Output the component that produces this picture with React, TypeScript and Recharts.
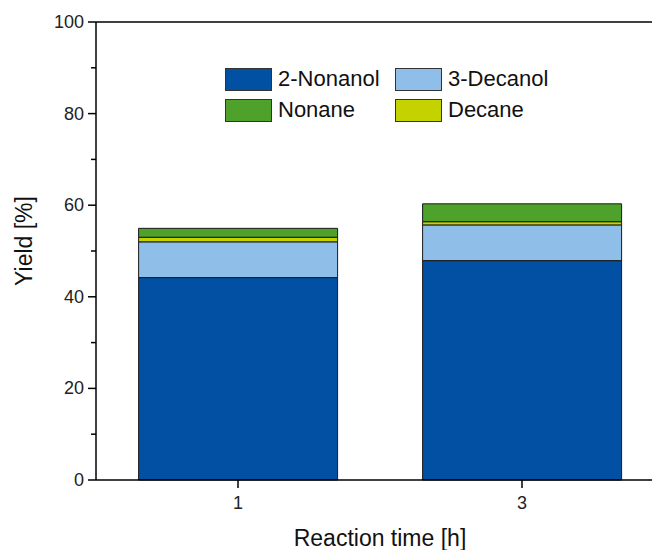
import React from 'react';
import { BarChart, Bar, XAxis, YAxis, ReferenceLine } from 'recharts';

const times = ['1', '3'];
const nonanol2 = [44.2, 47.9];
const decanol3 = [7.8, 7.8];
const decane = [1.0, 0.7];
const nonane = [1.95, 3.9];
const yTicks = [0, 10, 20, 30, 40, 50, 60, 70, 80, 90, 100];

const series = [
  { key: 'nonanol2', name: '2-Nonanol', color: '#0150a4' },
  { key: 'decanol3', name: '3-Decanol', color: '#8fbfe9' },
  { key: 'nonane', name: 'Nonane', color: '#4ea12b' },
  { key: 'decane', name: 'Decane', color: '#c4d300' },
];
const stackOrder = ['nonanol2', 'decanol3', 'decane', 'nonane'];

const data = times.map((t, i) => ({
  time: t,
  nonanol2: nonanol2[i],
  decanol3: decanol3[i],
  decane: decane[i],
  nonane: nonane[i],
}));

const font = 'Arial, "Liberation Sans", sans-serif';

const YTick = ({ x, y, payload }: any) => {
  const major = payload.value % 20 === 0;
  return (
    <g>
      <line x1={major ? x + 4 : x + 7} x2={x + 12} y1={y} y2={y} stroke="#000" strokeWidth={1.5} />
      {major && (
        <text x={x} y={y} dy={6} textAnchor="end" fontSize={18} fill="#222" fontFamily={font}>
          {payload.value}
        </text>
      )}
    </g>
  );
};

const YTitle = ({ viewBox }: any) => {
  const cx = 24;
  const cy = viewBox.y + viewBox.height / 2 - 10;
  return (
    <text
      x={cx}
      y={cy}
      transform={`rotate(-90, ${cx}, ${cy})`}
      textAnchor="middle"
      dominantBaseline="central"
      fontSize={23}
      fill="#111"
      fontFamily={font}
    >
      Yield [%]
    </text>
  );
};

const ChartLegend = () => (
  <div
    style={{
      position: 'absolute',
      left: 225,
      top: 67,
      display: 'grid',
      gridTemplateColumns: '170px 160px',
      rowGap: 7,
      fontFamily: font,
      fontSize: 22,
      color: '#111',
    }}
  >
    {series.map((s) => (
      <div key={s.key} style={{ display: 'flex', alignItems: 'center', height: 24 }}>
        <span
          style={{
            width: 47,
            height: 23,
            background: s.color,
            border: '1px solid #333',
            marginRight: 6,
            boxSizing: 'border-box',
          }}
        />
        <span>{s.name}</span>
      </div>
    ))}
  </div>
);

export default function App() {
  return (
    <div style={{ position: 'absolute', left: 0, top: 0, width: 652, height: 550, overflow: 'hidden', background: '#fff' }}>
      <BarChart
        width={680}
        height={550}
        data={data}
        margin={{ top: 22, right: 16, bottom: 0, left: 0 }}
        barCategoryGap="15%"
      >
        <XAxis
          dataKey="time"
          height={70}
          axisLine={{ stroke: '#000', strokeWidth: 1.5 }}
          tickLine={{ stroke: '#000', strokeWidth: 1.5 }}
          tickSize={8}
          tickMargin={8}
          tick={{ fontSize: 18, fill: '#222', fontFamily: font }}
          label={{ value: 'Reaction time [h]', position: 'insideBottom', offset: 4, fontSize: 23, fill: '#111', fontFamily: font }}
        />
        <YAxis
          width={96}
          domain={[0, 100]}
          ticks={yTicks}
          interval={0}
          axisLine={{ stroke: '#000', strokeWidth: 1.5 }}
          tickLine={false}
          tickSize={8}
          tickMargin={4}
          tick={<YTick />}
          label={<YTitle />}
        />
        <ReferenceLine y={100} stroke="#000" strokeWidth={1.5} />
        {stackOrder.map((k) => {
          const s = series.find((v) => v.key === k)!;
          return (
            <Bar
              key={k}
              dataKey={k}
              name={s.name}
              stackId="a"
              fill={s.color}
              stroke="#1a1a1a"
              strokeWidth={1}
              isAnimationActive={false}
            />
          );
        })}
      </BarChart>
      <ChartLegend />
    </div>
  );
}
